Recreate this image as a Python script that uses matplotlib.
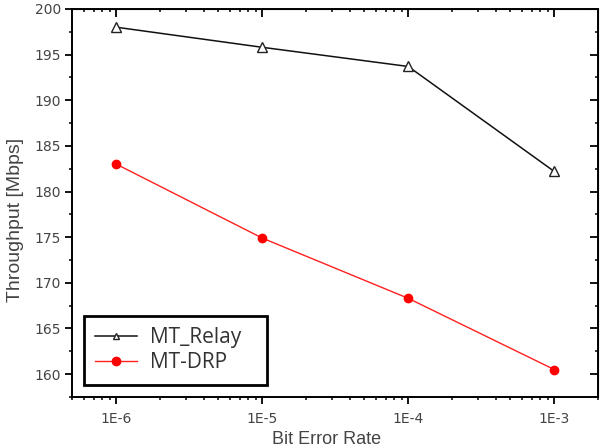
import matplotlib
matplotlib.use("Agg")
import matplotlib.pyplot as plt
from matplotlib.ticker import LogLocator, MultipleLocator, FixedLocator, NullFormatter

ber = [1e-6, 1e-5, 1e-4, 1e-3]
ber_labels = ["1E-6", "1E-5", "1E-4", "1E-3"]
relay = [198.0, 195.8, 193.7, 182.2]
drp = [183.0, 174.9, 168.3, 160.5]

plt.rcParams['font.family'] = ['Liberation Sans', 'DejaVu Sans']

fig = plt.figure(figsize=(6.03, 4.48), dpi=100)
ax = fig.add_axes([0.120, 0.114, 0.872, 0.866])

ax.plot(ber, relay, color='#111111', lw=1.1, marker='^', markersize=7,
        markerfacecolor='white', markeredgecolor='#222222', markeredgewidth=1,
        label='MT_Relay')
ax.plot(ber, drp, color='#ff2020', lw=1, marker='o', markersize=6,
        markerfacecolor='red', markeredgecolor='red', label='MT-DRP')

ax.set_xscale('log')
ax.set_xlim(5e-7, 2e-3)
ax.set_ylim(157.5, 200)
ax.xaxis.set_major_locator(FixedLocator(ber))
ax.set_xticks(ber)
ax.set_xticklabels(ber_labels)
ax.xaxis.set_minor_locator(LogLocator(base=10, subs=range(2, 10)))
ax.xaxis.set_minor_formatter(NullFormatter())
ax.yaxis.set_major_locator(MultipleLocator(5))
ax.yaxis.set_minor_locator(MultipleLocator(2.5))

for s in ax.spines.values():
    s.set_linewidth(1.4)

ax.tick_params(axis='both', which='major', labelsize=10, labelcolor='#444444',
               length=5, width=1.3, direction='out')
ax.tick_params(axis='both', which='minor', length=2.5, width=1.1, direction='out')
ax.tick_params(axis='x', which='major', pad=6)
ax.tick_params(axis='y', which='major', pad=3)
for lab in ax.get_xticklabels() + ax.get_yticklabels():
    lab.set_fontfamily('DejaVu Sans')

# inward ticks on top and right
axt = ax.secondary_xaxis('top')
axt.set_xticks(ber)
axt.set_xticklabels([])
axt.xaxis.set_minor_locator(LogLocator(base=10, subs=range(2, 10)))
axt.xaxis.set_minor_formatter(NullFormatter())
axt.tick_params(which='major', direction='in', length=5.5, width=1.3)
axt.tick_params(which='minor', direction='in', length=2.5, width=1.1)
axr = ax.secondary_yaxis('right')
axr.yaxis.set_major_locator(MultipleLocator(5))
axr.yaxis.set_minor_locator(MultipleLocator(2.5))
axr.yaxis.set_major_formatter(NullFormatter())
axr.tick_params(which='major', direction='in', length=5.5, width=1.3)
axr.tick_params(which='minor', direction='in', length=2.5, width=1.1)

ylab = ax.set_ylabel('Throughput [Mbps]', fontsize=14, color='#444444')
ax.yaxis.set_label_coords(-0.108, 0.457)
ylab.set_va('center')
xlab = ax.set_xlabel('Bit Error Rate', fontsize=13, color='#444444')
ax.xaxis.set_label_coords(0.483, -0.088)
xlab.set_va('top')

leg = ax.legend(loc='lower left', bbox_to_anchor=(0.022, 0.031, 0.348, 0.18),
                mode='expand',
                prop={'family': 'Open Sans', 'size': 15},
                fancybox=False, framealpha=1, edgecolor='black',
                handlelength=2.0, borderpad=0.55, labelspacing=0.2,
                handletextpad=0.6, borderaxespad=0)
leg.get_frame().set_linewidth(2.0)
leg.legend_handles[0].set_markersize(5)
for t in leg.get_texts():
    t.set_color('#333333')

fig.savefig('out.png', dpi=100)
